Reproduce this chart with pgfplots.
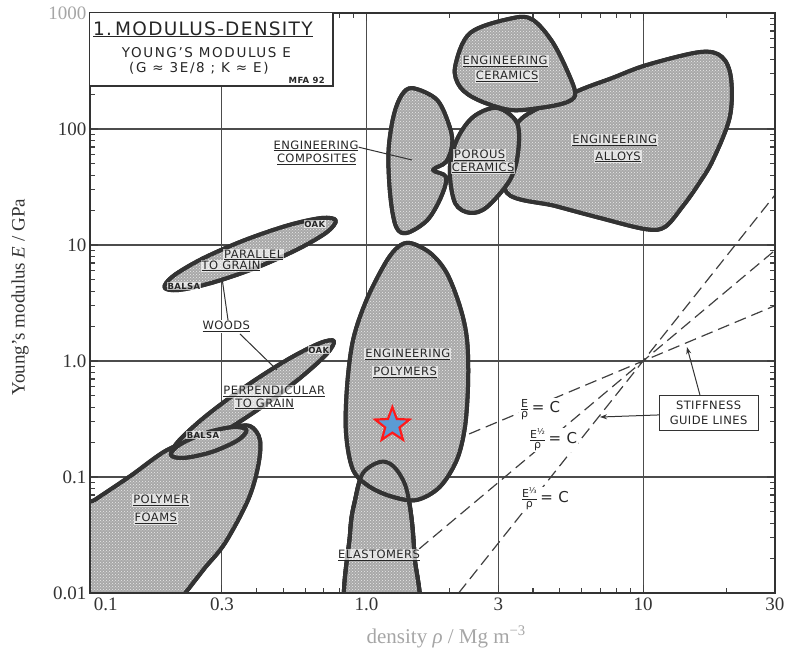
\documentclass[border=0pt]{standalone}
\usepackage{pgfplots}
\pgfplotsset{compat=1.18}
\usepackage{pgfplotstable}
\usepackage{fontspec}
\setmainfont{Liberation Serif}
\newfontfamily\lab[LetterSpace=4]{DejaVu Sans}
\newfontfamily\titlefont[LetterSpace=7]{DejaVu Sans}
\newfontfamily\subfont[LetterSpace=12]{DejaVu Sans}
\usetikzlibrary{arrows.meta,patterns}

\definecolor{blobgray}{HTML}{A8A8A8}
\definecolor{edge}{HTML}{333333}
\definecolor{starblue}{HTML}{5B9BD5}
\definecolor{starred}{HTML}{FF1A1A}

% filled five-pointed star
\pgfdeclareplotmark{fstar}{%
  \pgfpathmoveto{\pgfpointpolar{90}{\pgfplotmarksize}}%
  \pgfpathlineto{\pgfpointpolar{126}{0.42\pgfplotmarksize}}%
  \pgfpathlineto{\pgfpointpolar{162}{\pgfplotmarksize}}%
  \pgfpathlineto{\pgfpointpolar{198}{0.42\pgfplotmarksize}}%
  \pgfpathlineto{\pgfpointpolar{234}{\pgfplotmarksize}}%
  \pgfpathlineto{\pgfpointpolar{270}{0.42\pgfplotmarksize}}%
  \pgfpathlineto{\pgfpointpolar{306}{\pgfplotmarksize}}%
  \pgfpathlineto{\pgfpointpolar{342}{0.42\pgfplotmarksize}}%
  \pgfpathlineto{\pgfpointpolar{18}{\pgfplotmarksize}}%
  \pgfpathlineto{\pgfpointpolar{54}{0.42\pgfplotmarksize}}%
  \pgfpathclose
  \pgfusepathqfillstroke}

% material property envelopes: density (Mg/m^3), Young's modulus (GPa)
\pgfplotstableread{
rho E
2.09 342
2.37 673
3.39 905
4.00 871
4.73 551
5.44 281
5.68 196
5.22 168
4.24 152
3.30 146
2.53 178
2.18 230
}\tabCeramics
\pgfplotstableread{
rho E
3.65 124
5.68 208
7.73 275
10.3 356
16.1 461
19.3 418
20.8 275
20.6 127
17.9 54.0
15.8 32.9
13.95 21.7
12.0 14.3
10.2 13.7
6.99 17.1
4.81 21.7
3.22 28.1
3.25 65.9
}\tabAlloys
\pgfplotstableread{
rho E
2.96 152
3.50 113
3.53 62.1
3.30 36.3
2.73 21.3
2.37 18.9
2.09 23.0
2.00 44.3
2.12 80.4
2.43 127
}\tabPorous
\pgfplotstableread{
rho E
1.47 225
1.80 178
2.00 104
2.04 72.8
1.94 52.0
1.74 44.3
1.94 38.6
1.86 25.9
1.66 16.4
1.40 12.7
1.28 14.3
1.22 25.9
1.20 62.1
1.25 127
1.34 196
}\tabComposites
\pgfplotstableread{
rho E
1.44 10.4
1.70 8.53
1.95 5.74
2.18 2.92
2.31 1.52
2.33 0.646
2.27 0.270
2.12 0.140
1.84 0.0820
1.52 0.0634
1.25 0.0672
1.03 0.0820
0.894 0.115
0.843 0.239
0.850 0.597
0.894 1.52
1.00 3.36
1.17 7.00
1.30 9.61
}\tabPolymers
\pgfplotstableread{
rho E
0.857 0.006
0.872 0.0329
0.909 0.0634
0.971 0.108
1.12 0.135
1.25 0.124
1.38 0.0853
1.45 0.047
1.49 0.0213
1.51 0.006
}\tabElastomers
\pgfplotstableread{
rho E
0.774 16.3
0.719 12.9
0.563 9.17
0.397 6.34
0.276 4.72
0.209 4.09
0.186 4.30
0.200 5.41
0.255 7.63
0.362 11.0
0.521 14.8
0.688 17.1
}\tabWoodPar
\pgfplotstableread{
rho E
0.762 1.49
0.718 1.15
0.573 0.708
0.412 0.392
0.291 0.230
0.222 0.165
0.197 0.157
0.209 0.204
0.261 0.332
0.364 0.600
0.515 1.02
0.675 1.42
}\tabWoodPerp
\pgfplotstableread{
rho E
0.368 0.254
0.342 0.207
0.275 0.164
0.218 0.146
0.196 0.155
0.211 0.190
0.261 0.239
0.330 0.270
}\tabBalsa
\pgfplotstableread{
rho E
0.092 0.0519
0.104 0.0634
0.140 0.102
0.190 0.171
0.250 0.217
0.321 0.264
0.379 0.275
0.412 0.208
0.405 0.122
0.373 0.0634
0.308 0.0270
0.260 0.0164
0.221 0.0100
0.203 0.0079
0.092 0.0071
}\tabFoams

\pgfplotsset{
  blob/.style={mark=none, smooth cycle, tension=0.55,
    preaction={fill=blobgray}, pattern=crosshatch dots, pattern color=white!92!black,
    draw=edge, line width=4pt, line join=round},
  blobedge/.style={mark=none, smooth cycle, tension=0.55, fill=none,
    draw=edge, line width=4pt, line join=round},
  guide/.style={mark=none, black!75, line width=1.2pt,
    dash pattern=on 12pt off 6pt},
}
\tikzset{
  lab/.style={font=\lab\fontsize{11.5}{12}\selectfont, text=black!85,
    fill=white, fill opacity=0.65, text opacity=1, inner sep=1pt},
  smalllab/.style={font=\lab\bfseries\fontsize{8.5}{9}\selectfont, text=black!85,
    fill=white, fill opacity=0.65, text opacity=1, inner sep=0.6pt},
  eq/.style={font=\lab\fontsize{15}{15}\selectfont, text=black!85,
    fill=white, inner sep=1pt},
}
\newcommand{\num}[1]{\mbox{\lab\fontsize{11}{11}\selectfont #1}}
\newcommand{\pw}[1]{\raisebox{0.55ex}{\fontsize{8}{8}\selectfont #1}}

\begin{document}
\begin{tikzpicture}
\path[use as bounding box] (0,0) rectangle (788pt,651pt);
\begin{axis}[
  at={(90pt,58pt)}, anchor=south west,
  scale only axis, width=685pt, height=580pt,
  xmode=log, ymode=log,
  xmin=0.1, xmax=30, ymin=0.01, ymax=1000,
  xtick={0.1,0.3,1,3,10,30},
  xticklabels={\makebox[0pt][l]{\hspace{4pt}0.1},0.3,1.0,3,10,30},
  ytick={0.01,0.1,1,10,100,1000},
  yticklabels={0.01,0.1,1.0,10,100,{\color{black!35}1000}},
  minor xtick={0.2,0.4,0.5,0.6,0.7,0.8,0.9,2,4,5,6,7,8,9,20},
  minor ytick={0.02,0.03,0.04,0.05,0.06,0.07,0.08,0.09,
               0.2,0.3,0.4,0.5,0.6,0.7,0.8,0.9,
               2,3,4,5,6,7,8,9,20,30,40,50,60,70,80,90,
               200,300,400,500,600,700,800,900},
  grid=major,
  major grid style={line width=1.1pt, black!70},
  tick style={line width=1.1pt, black!75},
  major tick length=8pt, minor tick length=5pt,
  axis line style={line width=1.8pt, black!80},
  tick label style={font=\fontsize{19}{20}\selectfont, text=black!80},
  xticklabel style={yshift=-1pt},
  clip mode=individual,
  xlabel={density \textit{ρ} / Mg m\textsuperscript{−3}},
  ylabel={Young’s modulus \textit{E} / GPa},
  every axis x label/.style={at={(axis description cs:0.52,-0.076)},
    anchor=center, font=\fontsize{21}{22}\selectfont, text=black!35},
  every axis y label/.style={at={(axis description cs:-0.102,0.51)},
    rotate=90, anchor=center, font=\fontsize{19}{20}\selectfont, text=black!80},
]

% stiffness guide lines through (10, 1): slopes 1, 2 and 3
\addplot[guide] coordinates {(2.35,0.235) (30,3)};
\addplot[guide] coordinates {(1.55,0.024) (30,9)};
\addplot[guide] coordinates {(2.154,0.01) (30,27)};

% property envelopes
\addplot[blob] table {\tabComposites};
\addplot[blob] table {\tabAlloys};
\addplot[blob] table {\tabCeramics};
\addplot[blob] table {\tabPorous};
\addplot[blob] table {\tabElastomers};
\addplot[blob] table {\tabPolymers};
\addplot[blobedge] table {\tabElastomers};
\addplot[blob] table {\tabWoodPar};
\addplot[blob] table {\tabFoams};
\addplot[blob] table {\tabWoodPerp};
\addplot[blob] table {\tabBalsa};

% highlighted material
\addplot[only marks, mark=fstar, mark size=18pt,
  mark options={fill=starblue, draw=starred, line width=2.2pt}]
  coordinates {(1.24,0.28)};

% frame on top of the envelopes
\draw[line width=1.8pt, black!80] (rel axis cs:0,0) rectangle (rel axis cs:1,1);

% leader lines
\draw[line width=1pt, black!80] (rel axis cs:0.391,0.769) -- (rel axis cs:0.470,0.7466);
\draw[line width=1pt, black!80] (rel axis cs:0.2015,0.4707) -- (rel axis cs:0.1927,0.543);
\draw[line width=1pt, black!80] (rel axis cs:0.219,0.4466) -- (rel axis cs:0.273,0.3845);
\draw[line width=1pt, black!80, -{Stealth[length=7pt,width=5pt]}]
  (rel axis cs:0.8905,0.341) -- (rel axis cs:0.8715,0.424);
\draw[line width=1pt, black!80, -{Stealth[length=7pt,width=5pt]}]
  (rel axis cs:0.8307,0.307) -- (rel axis cs:0.7445,0.3034);

% envelope names
\node[lab] at (rel axis cs:0.606,0.917) {\underline{ENGINEERING}};
\node[lab] at (rel axis cs:0.609,0.891) {\underline{CERAMICS}};
\node[lab] at (rel axis cs:0.766,0.781) {\underline{ENGINEERING}};
\node[lab] at (rel axis cs:0.771,0.752) {\underline{ALLOYS}};
\node[lab] at (rel axis cs:0.569,0.755) {\underline{POROUS}};
\node[lab] at (rel axis cs:0.574,0.733) {\underline{CERAMICS}};
\node[lab] at (rel axis cs:0.330,0.771) {\underline{ENGINEERING}};
\node[lab] at (rel axis cs:0.331,0.747) {\underline{COMPOSITES}};
\node[lab] at (rel axis cs:0.239,0.583) {\underline{PARALLEL}};
\node[lab] at (rel axis cs:0.206,0.564) {\underline{TO GRAIN}};
\node[smalllab] at (rel axis cs:0.328,0.636) {OAK};
\node[smalllab] at (rel axis cs:0.137,0.529) {BALSA};
\node[lab, fill opacity=1] at (rel axis cs:0.199,0.459) {\underline{WOODS}};
\node[lab] at (rel axis cs:0.269,0.347) {\underline{PERPENDICULAR}};
\node[lab] at (rel axis cs:0.255,0.326) {\underline{TO GRAIN}};
\node[smalllab] at (rel axis cs:0.334,0.419) {OAK};
\node[smalllab] at (rel axis cs:0.165,0.272) {BALSA};
\node[lab] at (rel axis cs:0.104,0.159) {\underline{POLYMER}};
\node[lab] at (rel axis cs:0.096,0.128) {\underline{FOAMS}};
\node[lab] at (rel axis cs:0.464,0.412) {\underline{ENGINEERING}};
\node[lab] at (rel axis cs:0.460,0.381) {\underline{POLYMERS}};
\node[lab] at (rel axis cs:0.422,0.0655) {\underline{ELASTOMERS}};

% guide line labels
\node[eq] at (rel axis cs:0.657,0.316) {$\frac{\num{E}}{\num{ρ}}$\,= C};
\node[eq] at (rel axis cs:0.676,0.264) {$\frac{\num{E\pw{½}}}{\num{ρ}}$\,= C};
\node[eq] at (rel axis cs:0.664,0.162) {$\frac{\num{E\pw{⅓}}}{\num{ρ}}$\,= C};
\node[draw=black!80, line width=1pt, fill=white, minimum width=99pt,
  minimum height=35pt, align=center, inner sep=2pt,
  font=\lab\fontsize{11.5}{15}\selectfont, text=black!85]
  at (rel axis cs:0.903,0.311) {STIFFNESS\\GUIDE LINES};

% title block
\fill[white] (rel axis cs:0,1) rectangle (rel axis cs:0.3547,0.8741);
\draw[line width=1.5pt, black!80] (rel axis cs:0,0.8741) -- (rel axis cs:0.3547,0.8741)
  -- (rel axis cs:0.3547,1);
\node[anchor=base west, font=\titlefont\fontsize{18.5}{19}\selectfont, text=black!85, inner sep=0pt]
  at (rel axis cs:0.0044,0.962) {\underline{1.\,MODULUS-DENSITY}};
\node[anchor=base, font=\subfont\fontsize{13.5}{14}\selectfont, text=black!85, inner sep=0pt]
  at (rel axis cs:0.170,0.924) {YOUNG’S MODULUS E};
\node[anchor=base, font=\subfont\fontsize{13.5}{14}\selectfont, text=black!85, inner sep=0pt]
  at (rel axis cs:0.159,0.898) {(G ≈ 3E/8 ; K ≈ E)};
\node[anchor=base east, font=\lab\bfseries\fontsize{8.5}{9}\selectfont, text=black!85, inner sep=0pt]
  at (rel axis cs:0.343,0.879) {MFA 92};
\end{axis}
\end{tikzpicture}
\end{document}
